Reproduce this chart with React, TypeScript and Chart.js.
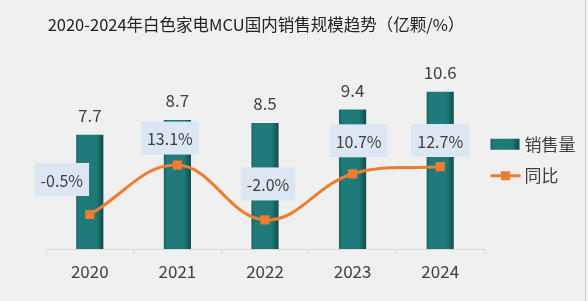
import React, { useEffect, useRef } from 'react';
import { Chart, registerables } from 'chart.js';

Chart.register(...registerables);

const years = ['2020', '2021', '2022', '2023', '2024'];
const sales = [7.7, 8.7, 8.5, 9.4, 10.6];
const yoy = [-0.5, 13.1, -2.0, 10.7, 12.7];
const salesLabels = ['7.7', '8.7', '8.5', '9.4', '10.6'];
const yoyLabels = ['-0.5%', '13.1%', '-2.0%', '10.7%', '12.7%'];
const seriesNames = ['销售量', '同比'];
const TITLE = '2020-2024年白色家电MCU国内销售规模趋势（亿颗/%）';

// layout only: offsets of the YoY label boxes relative to their points
const yoyLabelOffsets = [
  [-28, -35],
  [-7.5, -27],
  [3, -36],
  [6, -33],
  [0, -26],
];

const FONT = "'Noto Sans CJK SC', 'Noto Sans', sans-serif";
const TEAL = '#1e7a78';
const ORANGE = '#ed7d31';
const TEXT = '#404040';
const BAR_PCT = 0.31;

function tealGradient(ctx: CanvasRenderingContext2D, x0: number, x1: number) {
  const g = ctx.createLinearGradient(x0, 0, x1, 0);
  g.addColorStop(0, '#17615f');
  g.addColorStop(0.12, '#207c7a');
  g.addColorStop(0.75, '#1e7977');
  g.addColorStop(1, '#114b4a');
  return g;
}

const barFill = (context: any) => {
  const chart = context.chart;
  if (!chart.chartArea || !chart.scales.x) return TEAL;
  const xs = chart.scales.x;
  const cx = xs.getPixelForValue(context.dataIndex);
  const w = (xs.width / years.length) * BAR_PCT;
  if (!isFinite(cx) || !isFinite(w)) return TEAL;
  return tealGradient(chart.ctx, cx - w / 2, cx + w / 2);
};

const overlay = {
  id: 'overlay',
  beforeDraw(chart: any) {
    const c = chart.ctx;
    c.save();
    c.fillStyle = '#f0f0f0';
    c.fillRect(0, 0, chart.width, chart.height);
    c.restore();
  },
  afterDatasetsDraw(chart: any) {
    const c: CanvasRenderingContext2D = chart.ctx;
    const area = chart.chartArea;
    const barMeta = chart.getDatasetMeta(0);
    const lineMeta = chart.getDatasetMeta(1);
    c.save();
    c.textAlign = 'center';
    c.textBaseline = 'middle';

    // bar value labels
    c.font = `17px ${FONT}`;
    c.fillStyle = TEXT;
    barMeta.data.forEach((bar: any, i: number) => {
      c.fillText(salesLabels[i], bar.x, bar.y - 19.5);
    });

    // yoy label boxes
    c.font = `16px ${FONT}`;
    lineMeta.data.forEach((pt: any, i: number) => {
      const [dx, dy] = yoyLabelOffsets[i];
      const cx = pt.x + dx;
      const cy = pt.y + dy;
      const w = c.measureText(yoyLabels[i]).width + 12;
      const h = 33;
      c.fillStyle = '#dde6f3';
      c.fillRect(cx - w / 2, cy - h / 2, w, h);
      c.fillStyle = TEXT;
      c.fillText(yoyLabels[i], cx, cy + 1);
    });

    // title
    c.font = `16.5px ${FONT}`;
    c.fillStyle = '#222222';
    c.fillText(TITLE, 256, 25);

    // legend
    const lx = area.right + 6.5;
    const my = (area.top + area.bottom) / 2;
    const y1 = my - 15.75;
    const y2 = my + 15.75;
    c.fillStyle = tealGradient(c, lx, lx + 29);
    c.fillRect(lx, y1 - 5.5, 29, 11);
    c.textAlign = 'left';
    c.font = `17px ${FONT}`;
    c.fillStyle = TEXT;
    c.fillText(seriesNames[0], lx + 34, y1);
    c.strokeStyle = ORANGE;
    c.lineWidth = 3;
    c.beginPath();
    c.moveTo(lx, y2);
    c.lineTo(lx + 30, y2);
    c.stroke();
    c.fillStyle = ORANGE;
    c.fillRect(lx + 15 - 4.5, y2 - 4.5, 9, 9);
    c.fillStyle = TEXT;
    c.fillText(seriesNames[1], lx + 34, y2);

    // right frame line
    c.fillStyle = '#cfcfcf';
    c.fillRect(585, 0, 1, chart.height);
    c.restore();
  },
};

export default function App() {
  const ref = useRef<HTMLCanvasElement>(null);
  useEffect(() => {
    document.body.style.margin = '0';
    const chart = new Chart(ref.current as HTMLCanvasElement, {
      type: 'bar',
      data: {
        labels: years,
        datasets: [
          {
            type: 'bar',
            label: seriesNames[0],
            data: sales,
            yAxisID: 'y',
            order: 1,
            backgroundColor: barFill,
            borderWidth: 0,
            barPercentage: BAR_PCT,
            categoryPercentage: 1,
          } as any,
          {
            type: 'line',
            label: seriesNames[1],
            data: yoy,
            yAxisID: 'y2',
            order: 0,
            borderColor: ORANGE,
            backgroundColor: ORANGE,
            borderWidth: 3,
            tension: 0.4,
            pointStyle: 'rect',
            pointRadius: 6.5,
            pointBorderWidth: 0,
            pointBackgroundColor: ORANGE,
          } as any,
        ],
      },
      options: {
        responsive: false,
        animation: false,
        devicePixelRatio: 1,
        layout: { padding: { top: 71, left: 46, right: 104, bottom: 0 } },
        plugins: {
          legend: { display: false },
          title: { display: false },
          tooltip: { enabled: false },
        },
        scales: {
          x: {
            grid: {
              display: true,
              offset: true,
              drawOnChartArea: false,
              drawTicks: true,
              tickLength: 5,
              color: '#d9d9d9',
            },
            border: { display: true, color: '#d9d9d9' },
            ticks: { font: { family: FONT, size: 17 }, color: TEXT, padding: 7 },
            afterFit: (s: any) => {
              s.height = 52;
            },
          },
          y: { display: false, min: 0, max: 12 },
          y2: { display: false, min: -10, max: 39, position: 'right' },
        },
      } as any,
      plugins: [overlay],
    });
    return () => chart.destroy();
  }, []);
  return (
    <div style={{ width: 588, height: 301 }}>
      <canvas ref={ref} width={588} height={301} style={{ display: 'block' }} />
    </div>
  );
}
